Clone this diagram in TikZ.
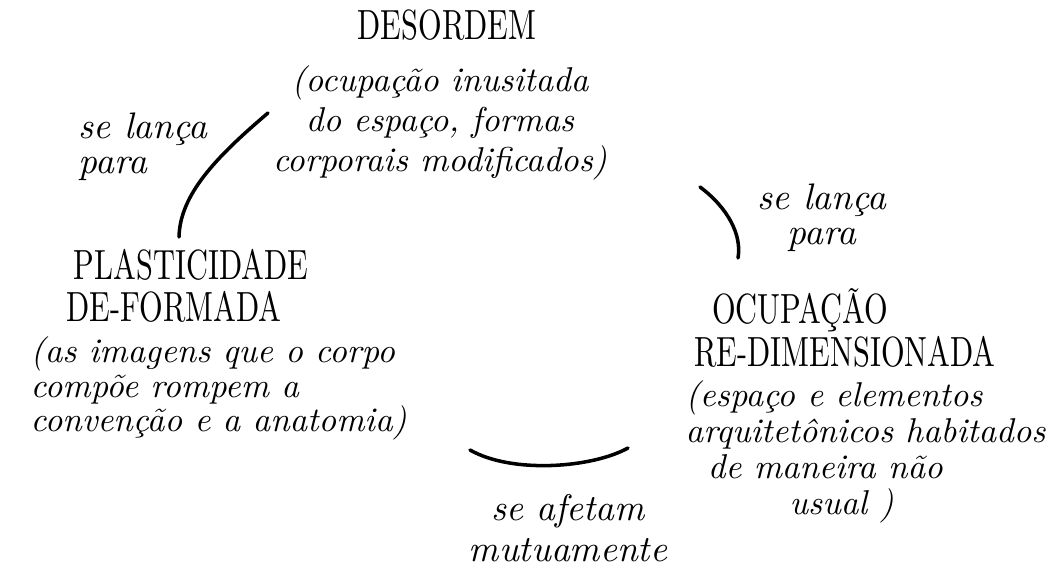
\documentclass[tikz,border=0pt]{standalone}
\usepackage{fontspec}
\newfontfamily\capsfont{lmroman10-regular.otf}[FakeStretch=0.72]
\begin{document}
\tikzset{
  caps/.style={font=\fontsize{12}{12}\capsfont, align=center, inner sep=0pt},
  hand/.style={font=\fontsize{9.8}{9.8}\selectfont\itshape, inner sep=0pt},
  stroke/.style={line width=1pt, line cap=round},
}
\begin{tikzpicture}[x=0.01cm,y=-0.01cm]
    \useasboundingbox (0,0) rectangle (1058,574);
    \node[caps] (desordem) at (447,25) {DESORDEM};
    \node[hand, align=center, font=\fontsize{9.8}{11.3}\selectfont\itshape] (desordemtxt) at (440,123) {(ocupação inusitada\\do espaço, formas\\corporais modificados)};
    \node[hand, align=left, anchor=north west, font=\fontsize{10.5}{10}\selectfont\itshape] (lancaesq) at (78,112) {se lança\\para};
    \node[hand, align=center, font=\fontsize{10.5}{10}\selectfont\itshape] (lancadir) at (822,218) {se lança\\para};
    \node[caps, align=left, anchor=west] (plast) at (66,286) {\hspace*{0.4ex}PLASTICIDADE\\DE-FORMADA};
    \node[hand, align=left, anchor=north west] (plasttxt) at (30,336) {(as imagens que o corpo\\compõe rompem a\\convenção e a anatomia)};
    \node[caps] (ocup) at (800,310) {OCUPAÇÃO};
    \node[caps] (redim) at (845,352) {RE-DIMENSIONADA};
    \node[hand, align=left, anchor=north west, font=\fontsize{9.8}{10.2}\selectfont\itshape] (ocuptxt) at (685,380) {(espaço e elementos\\arquitetônicos habitados\\\hspace*{1.5ex}de maneira não\\\hspace*{7ex}usual )};
    \node[hand, align=center, font=\fontsize{10.5}{11.5}\selectfont\itshape] (afetam) at (568,528) {se afetam\\mutuamente};
    \coordinate (e1) at (268,113);
    \coordinate (e2) at (179,237);
    \coordinate (d1) at (700,187);
    \coordinate (d2) at (738,258);
    \coordinate (b1) at (470,450);
    \coordinate (b2) at (628,448);
    \draw[stroke] (e1) .. controls (215,158) and (180,195) .. (e2);
    \draw[stroke] (d1) .. controls (728,208) and (742,235) .. (d2);
    \draw[stroke] (b1) .. controls (512,474) and (592,468) .. (b2);
\end{tikzpicture}
\end{document}
